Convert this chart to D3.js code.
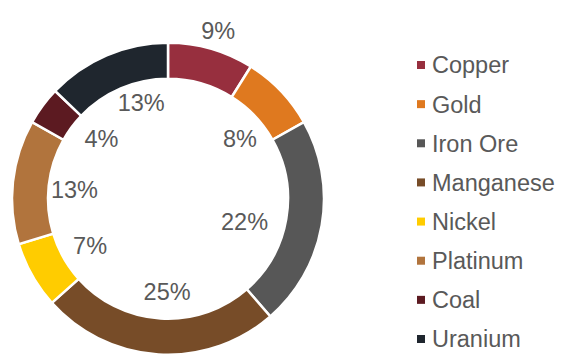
<!DOCTYPE html>
<html>
<head>
<meta charset="utf-8">
<script src="https://cdn.jsdelivr.net/npm/d3@7"></script>
<style>
  html, body { margin: 0; padding: 0; background: #ffffff; }
  svg { display: block; }
  text { font-family: "Liberation Sans", Arial, sans-serif; fill: #595959; }
</style>
</head>
<body>
<svg id="chart" width="562" height="354"></svg>
<script>
// Share of production value by commodity (%)
const categories = ["Copper", "Gold", "Iron Ore", "Manganese", "Nickel", "Platinum", "Coal", "Uranium"];
const shares = [9, 8, 22, 25, 7, 13, 4, 13];
const colors = ["#972f3e", "#df791f", "#575757", "#774c28", "#ffcc00", "#b1743d", "#5c1a21", "#1f262e"];

// Label placement: radius from centre and small angular nudge (degrees)
const labelRadius = [175, 94, 80, 93, 91, 94, 90, 100];
const labelNudge = [0.6, 3.6, 7, -3, -1.7, -0.9, 5.7, 7.6];

const svg = d3.select("#chart");
const cx = 168, cy = 198.7;
const outerR = 156, innerR = 120;
const fontSize = 23.5;

const data = categories.map((c, i) => ({ name: c, value: shares[i], color: colors[i], i }));

const pie = d3.pie().value(d => d.value).sort(null);
const arc = d3.arc().innerRadius(innerR).outerRadius(outerR);
const arcs = pie(data);

const g = svg.append("g").attr("transform", `translate(${cx},${cy})`);

g.selectAll("path.slice")
  .data(arcs)
  .join("path")
  .attr("class", "slice")
  .attr("d", arc)
  .attr("fill", d => d.data.color)
  .attr("stroke", "#ffffff")
  .attr("stroke-width", 2.5)
  .attr("stroke-linejoin", "miter");

g.selectAll("text.pct")
  .data(arcs)
  .join("text")
  .attr("class", "pct")
  .attr("text-anchor", "middle")
  .attr("dy", "0.36em")
  .attr("font-size", fontSize)
  .attr("x", d => {
    const a = (d.startAngle + d.endAngle) / 2 + labelNudge[d.data.i] * Math.PI / 180;
    return labelRadius[d.data.i] * Math.sin(a);
  })
  .attr("y", d => {
    const a = (d.startAngle + d.endAngle) / 2 + labelNudge[d.data.i] * Math.PI / 180;
    return -labelRadius[d.data.i] * Math.cos(a);
  })
  .text(d => d.data.value + "%");

// Legend
const legendY = d3.scalePoint().domain(categories).range([65, 339]);
const legend = svg.append("g");
const rows = legend.selectAll("g.row")
  .data(data)
  .join("g")
  .attr("class", "row")
  .attr("transform", d => `translate(417,${legendY(d.name)})`);

rows.append("rect")
  .attr("x", 0)
  .attr("y", -4)
  .attr("width", 8)
  .attr("height", 8)
  .attr("fill", d => d.color);

rows.append("text")
  .attr("x", 15)
  .attr("dy", "0.36em")
  .attr("font-size", fontSize)
  .text(d => d.name);
</script>
</body>
</html>
